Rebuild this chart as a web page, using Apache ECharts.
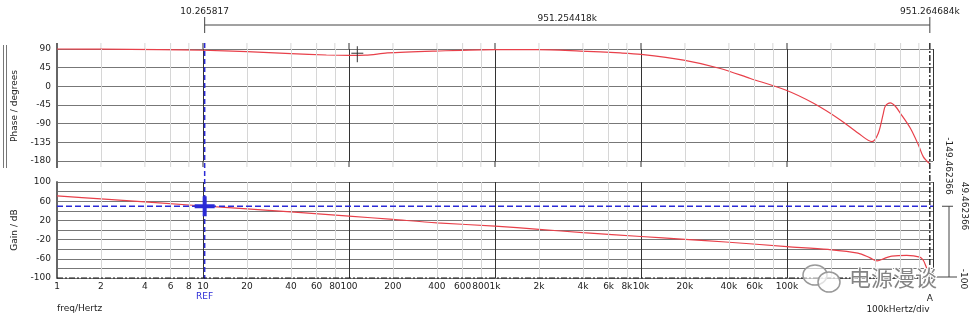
<!DOCTYPE html>
<html>
<head>
<meta charset="utf-8">
<title>Bode plot</title>
<script src="https://cdn.jsdelivr.net/npm/echarts@6/dist/echarts.min.js"></script>
<style>
    html, body { margin: 0; padding: 0; background: #fff; }
    #chart { width: 975px; height: 321px; }
</style>
</head>
<body>
<div id="chart"></div>
<script>
/**
 * Phase trace (Hz, degrees)
 */
const phaseFreq = [1, 2, 5, 10, 20, 40, 70, 100, 130, 183, 390, 1000, 1950, 3840, 7220, 10000,
    19600, 34900, 56100, 97800, 152000, 232000, 308000, 382000,
    422000, 457000, 471000, 510000, 552000, 598000, 700000, 795000, 859000, 951265];
const phaseDeg = [90, 89.6, 88.5, 87, 83.5, 79, 75.5, 74.5, 75, 80.5, 85, 88.5, 88.5, 85, 80.5, 77,
    63, 43, 19, -9, -41, -81, -113, -133.5,
    -113, -65, -48, -40, -48, -65, -101, -141.5, -170, -187];

/**
 * Gain trace (Hz, dB)
 */
const gainFreq = [1, 2, 10, 20, 100, 200, 400, 1000, 2000, 4000, 10000, 20000, 38000,
    100000, 191000, 306000, 368000, 414000, 470000, 522000, 660000, 812000, 860000, 896000, 951265];
const gainDb = [71, 65, 50, 44, 29, 22, 15, 8, 1.5, -5.5, -13.5, -19.5, -25,
    -34.5, -40.5, -48, -57.5, -64.5, -58.5, -54.5, -53, -56.5, -63.5, -76, -95];

/**
 * Axis ticks
 */
const freqLabels = [1, 2, 4, 6, 8, 10, 20, 40, 60, 80, 100, 200, 400, 600, 800,
    1000, 2000, 4000, 6000, 8000, 10000, 20000, 40000, 60000, 100000];
const minorFreqs = [];
[1, 10, 100, 1000, 10000, 100000].forEach((d) => {
    [2, 4, 6, 8].forEach((m) => minorFreqs.push(m * d));
});

/**
 * Cursor readouts
 */
const refFreq = 10.265817;
const refGain = 49.462366;
const cursorFreq = 951264.684;
const refText = '10.265817';
const deltaText = '951.254418k';
const cursorText = '951.264684k';
const phaseReadout = '-149.462366';
const gainReadout = '49.462366';
const lowReadout = '-100';
const markFreq = 114;
const markPhase = 75;

const FONT = 'DejaVu Sans';
const RED = '#e8404a';
const BLUE = '#2b2bd6';

function fmtFreq(v) {
    return v >= 1000 ? (v / 1000) + 'k' : String(v);
}

const chart = echarts.init(document.getElementById('chart'), null, { renderer: 'canvas' });

function xAxisOf(gridIndex, showLabels) {
    return {
        type: 'log', logBase: 10, gridIndex, min: 1, max: 1e6,
        axisLine: { show: false },
        axisTick: { show: false },
        axisLabel: {
            show: showLabels,
            customValues: freqLabels,
            formatter: fmtFreq,
            color: '#222', fontFamily: FONT, fontSize: 9, margin: 4,
            hideOverlap: false,
        },
        splitLine: { show: true, lineStyle: { color: '#333', width: 1 } },
    };
}

function minorSeries(xi, yi) {
    return {
        type: 'line', xAxisIndex: xi, yAxisIndex: yi, data: [], z: 1, silent: true,
        markLine: {
            silent: true, symbol: 'none', animation: false,
            label: { show: false },
            lineStyle: { color: '#d6d6d6', type: 'solid', width: 1 },
            data: minorFreqs.map((f) => ({ xAxis: f })),
        },
    };
}

const axisLabelStyle = { color: '#222', fontFamily: FONT, fontSize: 9, margin: 6 };

chart.setOption({
    animation: false,
    backgroundColor: '#fff',
    grid: [
        { left: 57, right: 42, top: 49, height: 112 },
        { left: 57, right: 42, top: 182, height: 96 },
    ],
    xAxis: [xAxisOf(0, false), xAxisOf(1, true)],
    yAxis: [
        {
            type: 'value', gridIndex: 0, min: -180, max: 90, interval: 45,
            axisLine: { show: true, lineStyle: { color: '#666', width: 2 } },
            axisTick: { show: false },
            axisLabel: axisLabelStyle,
            splitLine: { lineStyle: { color: '#777', width: 1 } },
        },
        {
            type: 'value', gridIndex: 1, min: -100, max: 100, interval: 20,
            axisLine: { show: true, lineStyle: { color: '#666', width: 2 } },
            axisTick: { show: false },
            axisLabel: Object.assign({}, axisLabelStyle, {
                formatter: (v) => ((v + 100) % 40 === 0 ? String(v) : ''),
            }),
            splitLine: { lineStyle: { color: '#777', width: 1 } },
        },
    ],
    series: [
        minorSeries(0, 0),
        minorSeries(1, 1),
        {
            name: 'Phase', type: 'line', xAxisIndex: 0, yAxisIndex: 0, z: 3,
            data: phaseFreq.map((f, i) => [f, phaseDeg[i]]),
            showSymbol: false, smooth: 0.3, clip: false,
            lineStyle: { color: RED, width: 1.2 },
        },
        {
            name: 'Gain', type: 'line', xAxisIndex: 1, yAxisIndex: 1, z: 3,
            data: gainFreq.map((f, i) => [f, gainDb[i]]),
            showSymbol: false, smooth: 0.3,
            lineStyle: { color: RED, width: 1.2 },
        },
    ],
});

// Cursors and readouts, placed through the axes
const xRef = chart.convertToPixel({ xAxisIndex: 1 }, refFreq);
const xA = chart.convertToPixel({ xAxisIndex: 1 }, cursorFreq);
const yRef = chart.convertToPixel({ yAxisIndex: 1 }, refGain);
const yLow = chart.convertToPixel({ yAxisIndex: 1 }, -100);
const xMark = chart.convertToPixel({ xAxisIndex: 0 }, markFreq);
const yMark = chart.convertToPixel({ yAxisIndex: 0 }, markPhase);
const xLeft = chart.convertToPixel({ xAxisIndex: 0 }, 1);
const yTop = chart.convertToPixel({ yAxisIndex: 0 }, 90);
const yBot = chart.convertToPixel({ yAxisIndex: 0 }, -180);

function line(x1, y1, x2, y2, stroke, width, dash, z) {
    return {
        type: 'line', silent: true, z: z || 50,
        shape: { x1, y1, x2, y2 },
        style: { stroke, lineWidth: width || 1, lineDash: dash || null },
    };
}

function label(text, x, y, opts) {
    return {
        type: 'text', silent: true, z: 50, x, y, rotation: (opts && opts.rotation) || 0,
        style: Object.assign({
            text, fill: '#222', font: '9px "' + FONT + '"',
            align: 'center', verticalAlign: 'middle',
        }, opts && opts.style),
    };
}

// phase panel: vertical rules run a little past the 90 / -180 lines
const stubs = [];
[1, 10, 100, 1000, 10000, 100000].forEach((d) => {
    const x = chart.convertToPixel({ xAxisIndex: 0 }, d);
    stubs.push(line(x, yTop - 6, x, yTop, '#333', 1, null, 1));
    stubs.push(line(x, yBot, x, yBot + 6, '#333', 1, null, 1));
});
minorFreqs.forEach((f) => {
    const x = chart.convertToPixel({ xAxisIndex: 0 }, f);
    stubs.push(line(x, yTop - 6, x, yTop, '#d6d6d6', 1, null, 1));
    stubs.push(line(x, yBot, x, yBot + 6, '#d6d6d6', 1, null, 1));
});
stubs.push(line(xLeft, yTop - 6, xLeft, yBot + 7, '#666', 2, null, 2));

const graphics = stubs.concat([
    // phase bracket on the far left
    line(3.5, 45, 3.5, 168, '#777', 1),
    line(6.5, 45, 6.5, 168, '#777', 1),
    label('Phase / degrees', 15, 106, { rotation: Math.PI / 2 }),
    label('Gain / dB', 15, 230, { rotation: Math.PI / 2 }),

    // REF cursor
    line(xRef, 43, xRef, 279, BLUE, 1.5, [5, 3]),
    line(57, yRef, 933, yRef, BLUE, 1.5, [6, 3]),
    line(xRef - 10, yRef, xRef + 10, yRef, BLUE, 4),
    line(xRef, yRef - 10, xRef, yRef + 10, BLUE, 4),
    label('REF', xRef, 297, { style: { fill: BLUE } }),

    // cursor A
    line(xA, 43, xA, 280, '#111', 1.3, [6, 2, 2, 2]),
    line(57, yLow, xA, yLow, '#111', 1, [6, 2, 2, 2]),
    label('A', xA, 299),
    label('100kHertz/div', 898, 310),
    label('freq/Hertz', 57, 309, { style: { align: 'left' } }),

    // top delta readout
    line(xRef, 25, xA, 25, '#444', 1),
    line(xRef, 17, xRef, 33, '#444', 1),
    line(xA, 17, xA, 33, '#444', 1),
    label(refText, xRef, 12),
    label(deltaText, (xRef + xA) / 2, 19),
    label(cursorText, xA, 12),

    // right-hand readouts
    line(xA, yLow - 1, 957, yLow - 1, '#444', 1),
    line(942, yRef, 953, yRef, '#444', 1),
    line(949, yRef, 949, yLow - 1, '#444', 1),
    label(phaseReadout, 948, 166, { rotation: -Math.PI / 2 }),
    label(gainReadout, 964, 206, { rotation: -Math.PI / 2 }),
    label(lowReadout, 963, 279, { rotation: -Math.PI / 2 }),

    // small cross on the phase trace
    line(xMark, yMark - 9, xMark, yMark + 7, '#333', 1),
    line(xMark - 6, yMark - 2, xMark + 6, yMark - 2, '#333', 1),

    // watermark
    {
        type: 'ellipse', silent: true, z: 60,
        shape: { cx: 815, cy: 275, rx: 12, ry: 10 },
        style: { fill: 'rgba(255,255,255,0.6)', stroke: '#999', lineWidth: 1.5 },
    },
    {
        type: 'ellipse', silent: true, z: 61,
        shape: { cx: 829, cy: 282, rx: 11, ry: 10 },
        style: { fill: 'rgba(255,255,255,0.7)', stroke: '#999', lineWidth: 1.5 },
    },
    {
        type: 'text', silent: true, z: 62, x: 849, y: 278,
        style: {
            text: '电源漫谈', font: '22px "Noto Sans CJK SC"',
            fill: 'rgba(110,110,110,0.85)', stroke: '#fff', lineWidth: 2,
            align: 'left', verticalAlign: 'middle',
        },
    },
]);

chart.setOption({ graphic: graphics });
</script>
</body>
</html>
